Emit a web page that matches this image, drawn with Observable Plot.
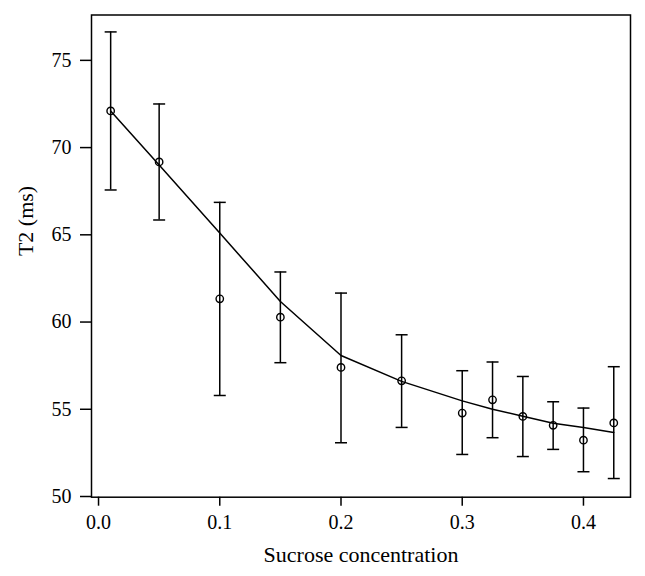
<!DOCTYPE html>
<html>
<head>
<meta charset="utf-8">
<script src="https://cdn.jsdelivr.net/npm/d3@7"></script>
<script src="https://cdn.jsdelivr.net/npm/@observablehq/plot@0.6"></script>
<style>
  html, body { margin: 0; padding: 0; background: #fff; }
  svg { font-family: "Liberation Serif", "DejaVu Serif", serif; }
</style>
</head>
<body>
<div id="chart"></div>
<script>
const concentration = [0.01, 0.05, 0.1, 0.15, 0.2, 0.25, 0.3, 0.325, 0.35, 0.375, 0.4, 0.425];
const t2Mean  = [72.1, 69.18, 61.33, 60.28, 57.4, 56.63, 54.78, 55.54, 54.59, 54.08, 53.23, 54.22];
const t2Upper = [76.63, 72.5, 66.86, 62.87, 61.66, 59.27, 57.21, 57.71, 56.88, 55.43, 55.07, 57.44];
const t2Lower = [67.57, 65.85, 55.79, 57.67, 53.08, 53.96, 52.41, 53.37, 52.29, 52.7, 51.42, 51.03];
const t2Fit   = [72.1, 69.0, 65.1, 61.18, 58.08, 56.6, 55.48, 55.0, 54.6, 54.2, 53.95, 53.67];
const xTicks = [0.0, 0.1, 0.2, 0.3, 0.4];
const yTicks = [50, 55, 60, 65, 70, 75];
const xTitle = "Sucrose concentration";
const yTitle = "T2 (ms)";

const data = concentration.map((c, i) => ({
  c, mean: t2Mean[i], hi: t2Upper[i], lo: t2Lower[i], fit: t2Fit[i]
}));

// horizontal cap symbol for error bars
const capSymbol = {
  draw(context, size) {
    const w = Math.sqrt(size / Math.PI);
    context.moveTo(-w, 0);
    context.lineTo(w, 0);
  }
};

const chart = Plot.plot({
  width: 645,
  height: 576,
  marginLeft: 91,
  marginRight: 15,
  marginTop: 14.5,
  marginBottom: 79.3,
  style: { fontFamily: "Liberation Serif, serif", fontSize: "20px", color: "black", background: "white" },
  x: { domain: [-0.0058, 0.4388] },
  y: { domain: [49.96, 77.6] },
  marks: [
    Plot.axisX({ ticks: xTicks, tickFormat: d3.format(".1f"), tickSize: 9, tickPadding: 9, label: null, fontSize: 20, strokeWidth: 1.5 }),
    Plot.axisY({ ticks: yTicks, tickFormat: d => String(d), tickSize: 11, tickPadding: 9, label: null, fontSize: 20, strokeWidth: 1.5 }),
    Plot.ruleX(data, { x: "c", y1: "lo", y2: "hi", stroke: "black", strokeWidth: 1.5 }),
    Plot.dot(data, { x: "c", y: "hi", symbol: capSymbol, r: 6, stroke: "black", strokeWidth: 1.5 }),
    Plot.dot(data, { x: "c", y: "lo", symbol: capSymbol, r: 6, stroke: "black", strokeWidth: 1.5 }),
    Plot.line(data, { x: "c", y: "fit", stroke: "black", strokeWidth: 1.5 }),
    Plot.dot(data, { x: "c", y: "mean", r: 3.7, stroke: "black", fill: "none", strokeWidth: 1.4 }),
    Plot.frame({ stroke: "black", strokeWidth: 1.5 }),
    Plot.text([xTitle], { frameAnchor: "bottom", dy: 65, lineAnchor: "bottom", fontSize: 22, fill: "black" }),
    Plot.text([yTitle], { frameAnchor: "left", dx: -66, rotate: -90, fontSize: 22, fill: "black" })
  ]
});
document.getElementById("chart").appendChild(chart);
</script>
</body>
</html>
